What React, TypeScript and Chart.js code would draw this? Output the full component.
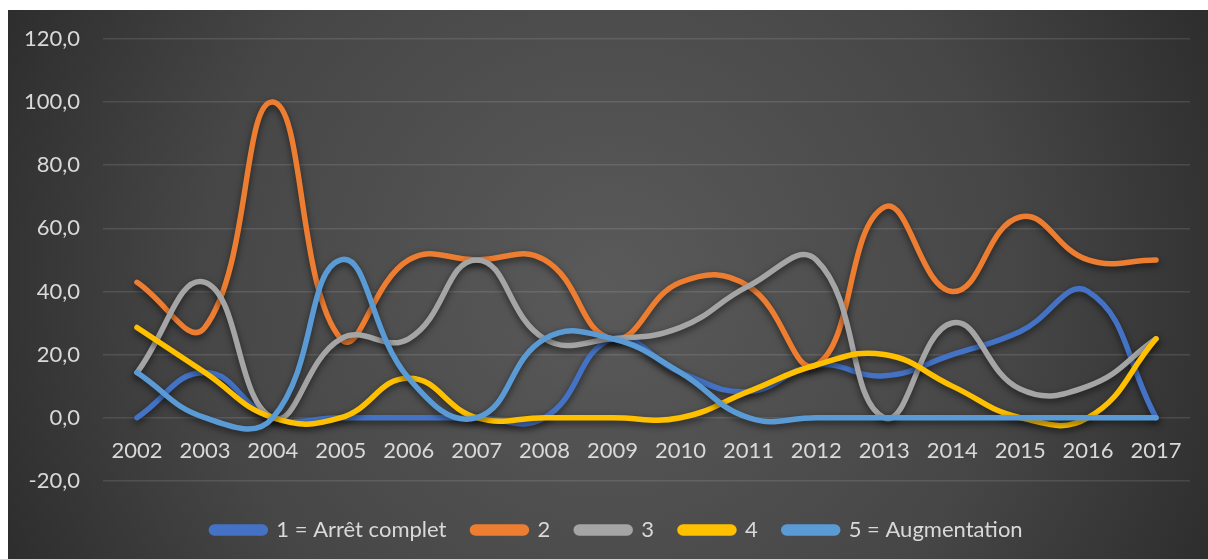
import React, { useEffect, useRef } from "react";
import { Chart, registerables } from "chart.js";

Chart.register(...registerables);

const years = ["2002","2003","2004","2005","2006","2007","2008","2009","2010","2011","2012","2013","2014","2015","2016","2017"];
const s1 = [0, 14.3, 0, 0, 0, 0, 0, 25, 14.3, 8.3, 16.7, 13.3, 20, 27.3, 40, 0];
const s2 = [42.9, 28.6, 100, 25, 50, 50, 50, 25, 42.9, 41.7, 16.7, 66.7, 40, 63.6, 50, 50];
const s3 = [14.3, 42.9, 0, 25, 25, 50, 25, 25, 28.6, 41.7, 50, 0, 30, 9.1, 10, 25];
const s4 = [28.6, 14.3, 0, 0, 12.5, 0, 0, 0, 0, 8.3, 16.7, 20, 10, 0, 0, 25];
const s5 = [14.3, 0, 0, 50, 12.5, 0, 25, 25, 14.3, 0, 0, 0, 0, 0, 0, 0];
const seriesNames = ["1 = Arrêt complet", "2", "3", "4", "5 = Augmentation"];
const seriesColors = ["#4472C4", "#ED7D31", "#A5A5A5", "#FFC000", "#5B9BD5"];
const yMin = -20;
const yMax = 120;
const yStep = 20;

const bgPlugin = {
  id: "bg",
  beforeDraw(chart: any) {
    const { ctx, width, height } = chart;
    ctx.save();
    const g = ctx.createRadialGradient(width * 0.5, height * 0.5, 0, width * 0.5, height * 0.5, width * 0.62);
    g.addColorStop(0, "#5a5a5a");
    g.addColorStop(0.55, "#464646");
    g.addColorStop(1, "#252525");
    ctx.fillStyle = g;
    ctx.fillRect(0, 0, width, height);
    ctx.restore();
  },
};

const shadowPlugin = {
  id: "lineShadow",
  beforeDatasetDraw(chart: any) {
    const ctx = chart.ctx;
    ctx.save();
    ctx.shadowColor = "rgba(0,0,0,0.55)";
    ctx.shadowBlur = 7;
    ctx.shadowOffsetX = 0;
    ctx.shadowOffsetY = 3;
  },
  afterDatasetDraw(chart: any) {
    chart.ctx.restore();
  },
};

const legendShiftPlugin = {
  id: "legendShift",
  afterLayout(chart: any) {
    const lg = chart.legend;
    if (lg) {
      lg.left += 18;
      lg.right += 18;
    }
  },
};

export default function App() {
  const ref = useRef<HTMLCanvasElement>(null);
  useEffect(() => {
    if (!ref.current) return;
    const all = [s1, s2, s3, s4, s5];
    const font = { family: "Lato", size: 22 };
    const chart = new Chart(ref.current, {
      type: "line",
      data: {
        labels: years,
        datasets: all.map((d, i) => ({
          label: seriesNames[i],
          data: d,
          borderColor: seriesColors[i],
          backgroundColor: seriesColors[i],
          borderWidth: 5.5,
          pointRadius: 0,
          tension: 0.45,
          borderCapStyle: "round" as const,
          borderJoinStyle: "round" as const,
          fill: false,
          order: 4 - i,
        })),
      },
      options: {
        animation: false,
        responsive: false,
        maintainAspectRatio: false,
        layout: { padding: { top: 29, right: 18, left: 0, bottom: 8 } },
        plugins: {
          tooltip: { enabled: false },
          legend: {
            position: "bottom",
            title: { display: true, text: "", font: { size: 1 }, padding: { top: 0, bottom: 11 } },
            labels: {
              color: "#d9d9d9",
              font,
              boxWidth: 54,
              boxHeight: 6,
              useBorderRadius: true,
              borderRadius: 3,
              padding: 26,
              sort: (a: any, b: any) => a.datasetIndex - b.datasetIndex,
            },
          },
        },
        scales: {
          x: {
            type: "category",
            position: { y: 0 } as any,
            offset: true,
            grid: { display: false, drawTicks: false },
            border: { display: false },
            ticks: { color: "#d9d9d9", font, padding: 20, maxRotation: 0 },
          },
          y: {
            min: yMin,
            max: yMax,
            afterFit: (s: any) => {
              s.width = 95;
              s.paddingTop = 0;
              s.paddingBottom = 0;
            },
            grid: { color: "rgba(255,255,255,0.11)", lineWidth: 1.5, drawTicks: false },
            border: { display: false },
            ticks: {
              stepSize: yStep,
              color: "#d9d9d9",
              font,
              padding: 23,
              callback: (v: any) => Number(v).toFixed(1).replace(".", ","),
            },
          },
        },
      },
      plugins: [bgPlugin, shadowPlugin, legendShiftPlugin],
    });
    return () => chart.destroy();
  }, []);
  return (
    <div style={{ position: "fixed", left: 8, top: 10, width: 1200, height: 549 }}>
      <canvas ref={ref} width={1200} height={549} style={{ display: "block", width: 1200, height: 549 }} />
    </div>
  );
}
